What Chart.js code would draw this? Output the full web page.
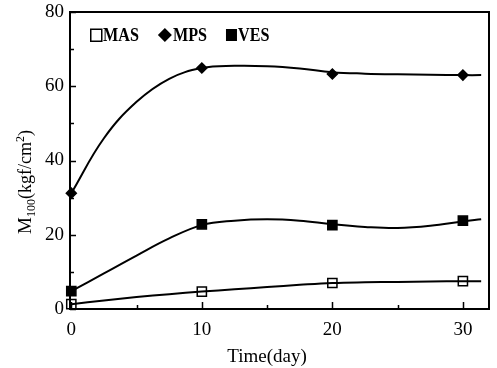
<!DOCTYPE html>
<html>
<head>
<meta charset="utf-8">
<script src="https://cdn.jsdelivr.net/npm/chart.js@4/dist/chart.umd.min.js"></script>
<style>
  html, body { margin: 0; padding: 0; background: #fff; }
  canvas { display: block; }
</style>
</head>
<body>
<canvas id="grafico" width="497" height="368"></canvas>
<script>
// measured points
const days = [0, 10, 20, 30];
const masVals = [1.3, 4.7, 7.0, 7.5];
const mpsVals = [31.2, 64.9, 63.3, 63.0];
const vesVals = [4.8, 22.8, 22.6, 23.8];

// fitted curves, sampled along the drawn lines
const fitDays = [0, 2.5, 5, 7.5, 10, 12.5, 15, 17.5, 20, 22.5, 25, 27.5, 30, 31.4];
const masFit = [1.3, 2.3, 3.2, 4.0, 4.7, 5.3, 5.9, 6.5, 7.0, 7.2, 7.3, 7.4, 7.5, 7.5];
const mpsFit = [31.2, 46, 55.8, 62, 64.9, 65.5, 65.4, 64.8, 63.8, 63.4, 63.2, 63.1, 63.0, 63.0];
const vesFit = [4.8, 9.6, 14.4, 19.0, 22.6, 23.8, 24.2, 23.8, 22.8, 22.1, 21.8, 22.4, 23.6, 24.2];

const xTicks = [0, 10, 20, 30];
const yTicks = [0, 20, 40, 60, 80];

const serif = "'Liberation Serif', 'Times New Roman', serif";

const pts = (xs, ys) => xs.map((x, i) => ({ x: x, y: ys[i] }));

function curve(label, ys) {
    return {
        label: label,
        data: pts(fitDays, ys),
        showLine: true,
        borderColor: '#000',
        borderWidth: 2,
        pointRadius: 0,
        fill: false,
        tension: 0.4,
        isFit: true
    };
}

function marks(label, ys, style, filled, radius) {
    return {
        label: label,
        data: pts(days, ys),
        showLine: false,
        clip: false,
        pointStyle: style,
        pointRadius: radius,
        pointBorderWidth: 1.5,
        pointBorderColor: '#000',
        pointBackgroundColor: filled ? '#000' : 'rgba(0,0,0,0)',
        legendFilled: filled
    };
}

// frame, inward ticks, axis titles, legend
const decor = {
    id: 'decor',
    afterDraw(chart) {
        const ctx = chart.ctx;
        const a = chart.chartArea;
        const xs = chart.scales.x, ys = chart.scales.y;
        ctx.save();
        ctx.strokeStyle = '#000';
        ctx.lineWidth = 2;
        ctx.strokeRect(a.left, a.top, a.right - a.left, a.bottom - a.top);

        ctx.lineWidth = 1.5;
        ctx.beginPath();
        for (let v = 0; v <= 80; v += 10) {
            const y = Math.round(ys.getPixelForValue(v)) + 0.5;
            const len = v % 20 === 0 ? 6 : 4;
            ctx.moveTo(a.left, y);
            ctx.lineTo(a.left + len, y);
        }
        for (let v = 0; v <= 30; v += 5) {
            const x = Math.round(xs.getPixelForValue(v)) + 0.5;
            const len = v % 10 === 0 ? 7 : 4;
            ctx.moveTo(x, a.bottom);
            ctx.lineTo(x, a.bottom - len);
        }
        ctx.stroke();

        ctx.fillStyle = '#000';
        ctx.textBaseline = 'alphabetic';

        // x axis title
        ctx.font = '19px ' + serif;
        ctx.textAlign = 'center';
        ctx.fillText('Time(day)', 267, 362);
        ctx.textAlign = 'left';

        // y axis title
        const parts = [
            ['M', 19, 0], ['100', 12, 4], ['(kgf/cm', 18, 0], ['2', 12, -7], [')', 18, 0]
        ];
        let total = 0;
        parts.forEach(p => { ctx.font = p[1] + 'px ' + serif; total += ctx.measureText(p[0]).width; });
        ctx.translate(31, 182);
        ctx.rotate(-Math.PI / 2);
        let tx = -total / 2;
        parts.forEach(p => {
            ctx.font = p[1] + 'px ' + serif;
            ctx.fillText(p[0], tx, p[2]);
            tx += ctx.measureText(p[0]).width;
        });
        ctx.setTransform(1, 0, 0, 1, 0, 0);

        // legend
        ctx.font = 'bold 19px ' + serif;
        ctx.textBaseline = 'middle';
        const squeeze = 0.85;
        let lx = 90;
        const ly = 35;
        chart.data.datasets.filter(d => !d.isFit).forEach(d => {
            ctx.lineWidth = 1.5;
            if (d.pointStyle === 'rectRot') {
                ctx.beginPath();
                ctx.moveTo(lx + 7, ly - 7);
                ctx.lineTo(lx + 14, ly);
                ctx.lineTo(lx + 7, ly + 7);
                ctx.lineTo(lx, ly);
                ctx.closePath();
                ctx.fill();
                lx += 14;
            } else if (d.legendFilled) {
                ctx.fillRect(lx, ly - 6, 11, 12);
                lx += 11;
            } else {
                ctx.strokeRect(lx + 0.75, ly - 5.75, 11, 12);
                lx += 12;
            }
            ctx.save();
            ctx.translate(lx + 1, ly + 1);
            ctx.scale(squeeze, 1);
            ctx.fillText(d.label, 0, 0);
            ctx.restore();
            lx += 1 + ctx.measureText(d.label).width * squeeze + 19;
        });
        ctx.restore();
    }
};

new Chart(document.getElementById('grafico'), {
    type: 'scatter',
    data: {
        datasets: [
            curve('MAS fit', masFit),
            curve('MPS fit', mpsFit),
            curve('VES fit', vesFit),
            marks('MAS', masVals, 'rect', false, 6.5),
            marks('MPS', mpsVals, 'rectRot', true, 5),
            marks('VES', vesVals, 'rect', true, 6.5)
        ]
    },
    options: {
        responsive: false,
        animation: false,
        layout: { padding: { top: 12, right: 6, left: 0, bottom: 0 } },
        plugins: {
            legend: { display: false },
            tooltip: { enabled: false }
        },
        scales: {
            x: {
                type: 'linear',
                min: -0.1,
                max: 32,
                afterBuildTicks: s => { s.ticks = xTicks.map(v => ({ value: v })); },
                afterFit: s => { s.height = 59; s.paddingLeft = 0; s.paddingRight = 0; },
                grid: { display: false, drawTicks: false },
                border: { display: false },
                ticks: { color: '#000', font: { family: serif, size: 19 }, padding: 10, maxRotation: 0 }
            },
            y: {
                min: 0,
                max: 80,
                afterBuildTicks: s => { s.ticks = yTicks.map(v => ({ value: v })); },
                afterFit: s => { s.width = 70; s.paddingTop = 0; s.paddingBottom = 0; },
                grid: { display: false, drawTicks: false },
                border: { display: false },
                ticks: { color: '#000', font: { family: serif, size: 19 }, padding: 6 }
            }
        }
    },
    plugins: [decor]
});
</script>
</body>
</html>
